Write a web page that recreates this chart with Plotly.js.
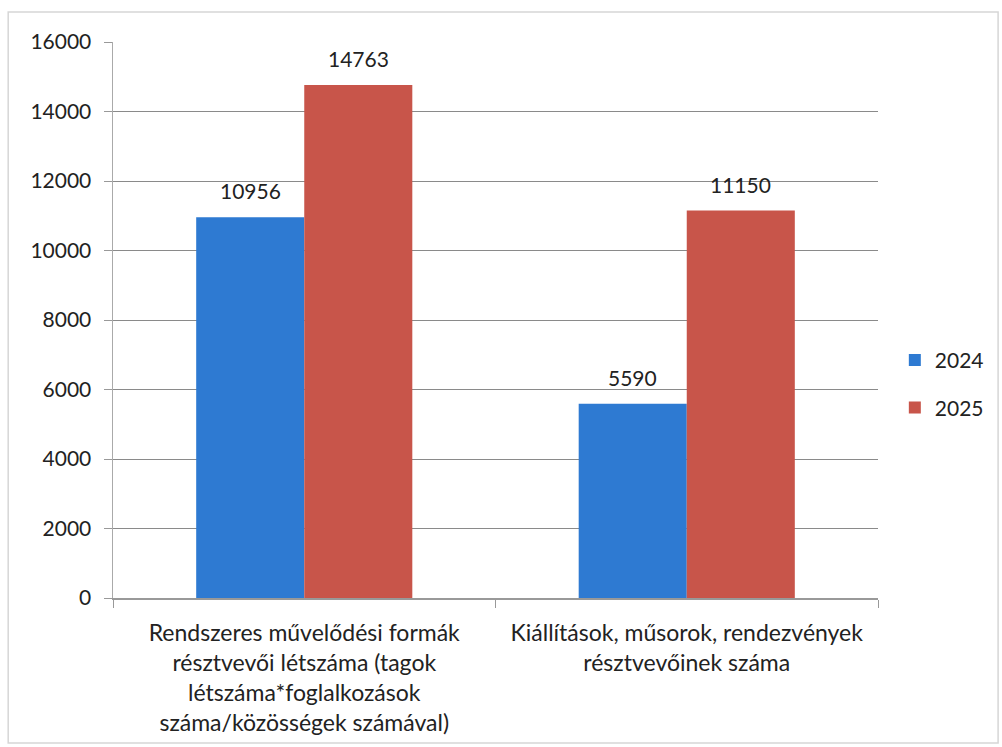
<!DOCTYPE html>
<html>
<head>
<meta charset="utf-8">
<script src="https://cdn.plot.ly/plotly-3.0.1.min.js"></script>
<style>html,body{margin:0;padding:0;background:#fff;}#chart{width:1002px;height:747px;}</style>
</head>
<body>
<div id="chart"></div>
<script>
var categories = [
  "Rendszeres művelődési formák<br>résztvevői létszáma (tagok<br>létszáma*foglalkozások<br>száma/közösségek számával)",
  "Kiállítások, műsorok, rendezvények<br>résztvevőinek száma"
];
var seriesNames = ["2024", "2025"];
var values2024 = [10956, 5590];
var values2025 = [14763, 11150];
var yTicks = [0, 2000, 4000, 6000, 8000, 10000, 12000, 14000, 16000];

var font = "Lato, 'Open Sans', sans-serif";
var traces = [
  {type: "bar", name: seriesNames[0], legendgroup: "a", x: categories, y: values2024,
   marker: {color: "#2e7ad2"}},
  {type: "bar", name: seriesNames[1], legendgroup: "b", x: categories, y: values2025,
   marker: {color: "#c8554a"}}
];
var annotations = [];
[values2024, values2025].forEach(function (vals, s) {
  vals.forEach(function (v, i) {
    annotations.push({x: categories[i], y: v, xref: "x", yref: "y", text: String(v),
      showarrow: false, yanchor: "bottom", yshift: 12, xshift: s === 0 ? -54 : 54,
      font: {family: font, size: 21, color: "#222"}});
  });
});
var layout = {
  width: 1002, height: 747,
  margin: {l: 113, r: 124, t: 42, b: 149, autoexpand: false},
  paper_bgcolor: "#fff", plot_bgcolor: "#fff",
  font: {family: font, size: 21, color: "#222"},
  barmode: "group", bargap: 0.435, bargroupgap: 0,
  showlegend: true,
  legend: {x: 1.022, y: 0.385, xanchor: "left", yanchor: "middle", traceorder: "grouped",
           font: {family: font, size: 21, color: "#222"}, tracegroupgap: 17,
           itemwidth: 30, bgcolor: "rgba(0,0,0,0)"},
  xaxis: {type: "category", showgrid: false, showline: true, linecolor: "#999", linewidth: 1.5,
          ticks: "outside", tickson: "boundaries", ticklen: 8, tickcolor: "#999",
          ticklabelstandoff: 14,
          tickfont: {family: font, size: 23, color: "#222"}, automargin: false},
  yaxis: {range: [0, 16000], tickvals: yTicks, ticktext: yTicks.map(String),
          showgrid: true, gridcolor: "#8a8a8a", gridwidth: 1,
          showline: true, linecolor: "#aaa", linewidth: 1.5,
          ticks: "outside", ticklen: 8, tickcolor: "#999", ticklabelstandoff: 8,
          tickfont: {family: font, size: 21, color: "#222"}, zeroline: false, automargin: false},
  annotations: annotations,
  shapes: [
    {type: "rect", xref: "paper", yref: "paper", x0: -0.137, x1: 1.157, y0: -0.261, y1: 1.054,
     line: {color: "#d6d6d6", width: 1.5}}
  ]
};
Plotly.newPlot("chart", traces, layout, {displayModeBar: false, staticPlot: true});
</script>
</body>
</html>
